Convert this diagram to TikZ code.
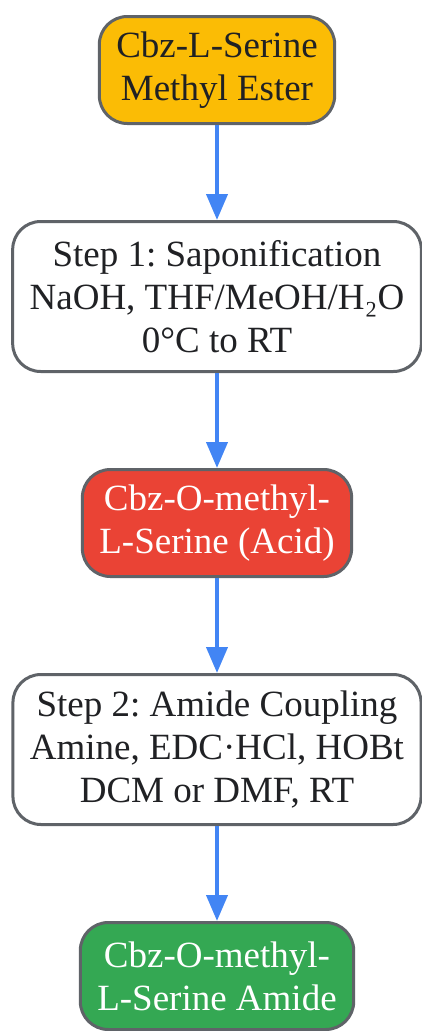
\documentclass[tikz,border=0pt]{standalone}
\usepackage{fontspec}
\setmainfont{Liberation Serif}
\usetikzlibrary{positioning,arrows.meta}
\definecolor{gorange}{HTML}{FBBC05}
\definecolor{gred}{HTML}{EA4335}
\definecolor{ggreen}{HTML}{34A853}
\definecolor{gblue}{HTML}{4285F4}
\definecolor{edge}{HTML}{5F6368}
\definecolor{ink}{HTML}{202124}
\tikzset{
    box/.style={draw=edge, line width=3pt, rounded corners=28pt, align=center,
        inner xsep=17pt, inner ysep=8pt, font=\fontsize{37}{43}\selectfont\frenchspacing, text=ink},
    stuff/.style={box, minimum height=107pt},
    stepbox/.style={box, fill=white, minimum height=150pt},
    flow/.style={draw=gblue, line width=4pt, -{Triangle[length=26pt,width=21pt]}}
}
\begin{document}
\begin{tikzpicture}[x=1pt, y=1pt, node distance=95pt]
    \useasboundingbox (0,0) rectangle (421,-1031);
    \node[stuff, fill=gorange] (ester) at (217,-70) {Cbz-L-Serine\\Methyl Ester};
    \node[stepbox, below=of ester] (sap) {Step 1: Saponification\\NaOH, THF/MeOH/H₂O\\0°C to RT};
    \node[stuff, fill=gred, text=white, below=of sap] (acid) {Cbz-O-methyl-\\L-Serine (Acid)};
    \node[stepbox, below=of acid] (coup) {Step 2: Amide Coupling\\Amine, EDC·HCl, HOBt\\DCM or DMF, RT};
    \node[stuff, fill=ggreen, text=white, below=of coup] (amide) {Cbz-O-methyl-\\L-Serine Amide};
    % arrows
    \draw[flow] (ester) -- (sap);
    \draw[flow] (sap) -- (acid);
    \draw[flow] (acid) -- (coup);
    \draw[flow] (coup) -- (amide);
\end{tikzpicture}
\end{document}
